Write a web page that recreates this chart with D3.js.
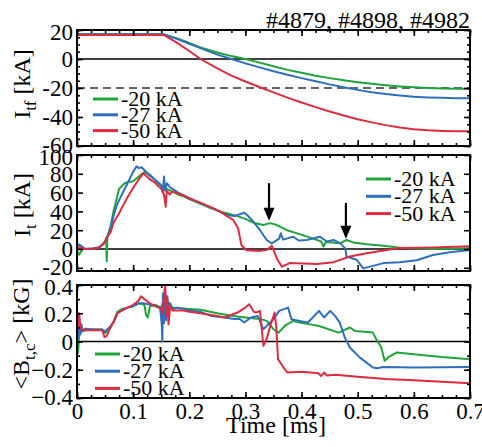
<!DOCTYPE html>
<html>
<head>
<meta charset="utf-8">
<script src="https://cdn.jsdelivr.net/npm/d3@7"></script>
<style>
  body { margin: 0; background: #fff; }
  svg { display: block; }
  text { font-family: "Liberation Serif", "Times New Roman", serif; fill: #000; }
</style>
</head>
<body>
<script>
// ---- labels and ticks ----
const shotsTitle = "#4879, #4898, #4982";
const legendLabels = ["-20 kA", "-27 kA", "-50 kA"];
const seriesColors = ["#1fa33b", "#2e6fbd", "#dd2c3f"];
const timeTicks = [0, 0.1, 0.2, 0.3, 0.4, 0.5, 0.6, 0.7];
const itfTicks = [20, 0, -20, -40, -60];
const itTicks = [100, 80, 60, 40, 20, 0, -20];
const btcTicks = [0.4, 0.2, 0, -0.2, -0.4];
const itfTarget = -20;                 // dashed reference level, kA
const arrowMarks = [[0.342, 70, 30], [0.479, 49, 11]]; // [time, from kA, to kA]

// ---- toroidal field coil current I_tf [kA] ----
const itfM20 = [[0,17],[0.155,17],[0.18,14],[0.2,11],[0.22,8],[0.25,4.5],[0.275,2],[0.3,0],[0.325,-2.5],[0.35,-5],[0.375,-7.5],[0.4,-9.5],[0.425,-11.5],[0.45,-13.2],[0.475,-14.7],[0.5,-16],[0.525,-17.1],[0.55,-18.1],[0.575,-18.9],[0.6,-19.5],[0.625,-20],[0.65,-20.3],[0.675,-20.5],[0.7,-20.6]];
const itfM27 = [[0,17],[0.155,17],[0.18,13.5],[0.2,10.5],[0.22,7.5],[0.25,3],[0.275,0],[0.3,-3],[0.325,-5.8],[0.35,-8.4],[0.375,-10.8],[0.4,-13.2],[0.425,-15.4],[0.45,-17.5],[0.475,-19.5],[0.5,-21.3],[0.525,-22.9],[0.55,-24.2],[0.575,-25.2],[0.6,-26],[0.625,-26.5],[0.65,-26.8],[0.675,-27],[0.7,-27.1]];
const itfM50 = [[0,16.5],[0.155,16.5],[0.175,12],[0.2,5.5],[0.22,0],[0.25,-6.5],[0.275,-11.5],[0.3,-15.5],[0.325,-19.3],[0.35,-23],[0.375,-26.6],[0.4,-30],[0.425,-33.2],[0.45,-36.2],[0.475,-39],[0.5,-41.5],[0.525,-43.7],[0.55,-45.6],[0.575,-47.2],[0.6,-48.4],[0.625,-49.2],[0.65,-49.6],[0.675,-49.8],[0.7,-49.8]];

// ---- toroidal plasma current I_t [kA] ----
const itM20 = [[0,-2],[0.004,-6],[0.01,0],[0.02,0],[0.03,0.5],[0.04,2],[0.048,6],[0.052,10],[0.053,-13],[0.054,12],[0.06,25],[0.065,40],[0.07,52],[0.075,64],[0.08,67],[0.085,70],[0.09,71],[0.1,72],[0.11,77],[0.12,82],[0.13,79],[0.14,73],[0.15,67],[0.16,64],[0.17,61],[0.18,58],[0.19,56],[0.2,53],[0.22,48],[0.24,43],[0.26,39],[0.28,36],[0.3,32],[0.314,28],[0.332,25.5],[0.344,27.5],[0.356,25.5],[0.374,20],[0.398,15.6],[0.421,11],[0.435,8],[0.439,2.5],[0.443,7.5],[0.469,6],[0.48,9.6],[0.492,7],[0.516,5],[0.546,3.5],[0.575,1.4],[0.634,0],[0.7,0.7]];
const itM27 = [[0,2],[0.003,5],[0.008,3],[0.015,0],[0.03,0.5],[0.04,2],[0.048,6],[0.055,15],[0.06,22],[0.065,35],[0.07,45],[0.075,52],[0.08,58],[0.09,70],[0.1,82],[0.106,88],[0.11,86],[0.115,87],[0.12,84],[0.13,78],[0.14,73],[0.15,68],[0.153,60],[0.155,77],[0.157,62],[0.16,70],[0.165,66],[0.17,64],[0.18,60],[0.19,57],[0.2,54],[0.22,49],[0.24,44],[0.26,38],[0.27,36],[0.28,35],[0.29,37],[0.298,38.5],[0.305,35],[0.314,29],[0.326,20],[0.338,9.6],[0.347,6],[0.36,11],[0.363,16.7],[0.367,10],[0.385,13],[0.395,9],[0.409,9.6],[0.433,13],[0.445,8],[0.457,9.6],[0.469,6],[0.478,0.7],[0.48,-8],[0.498,-11.5],[0.51,-20.6],[0.52,-19],[0.546,-15],[0.575,-14],[0.605,-12],[0.634,-6.4],[0.664,-3.5],[0.7,-1]];
const itM50 = [[0,0],[0.005,2],[0.01,0],[0.03,0.5],[0.04,1.5],[0.05,8],[0.055,14],[0.06,18],[0.065,28],[0.07,33],[0.075,38],[0.08,44],[0.09,55],[0.1,65],[0.11,74],[0.118,80.5],[0.125,77],[0.13,74],[0.14,70],[0.15,64],[0.155,58],[0.158,45],[0.16,62],[0.165,58],[0.17,61],[0.18,59],[0.19,57],[0.2,54],[0.22,49],[0.24,44],[0.255,40],[0.267,35],[0.278,31],[0.287,22],[0.293,4],[0.302,-1.4],[0.326,-2],[0.338,-1],[0.347,3.5],[0.356,-10],[0.365,-18.8],[0.379,-15],[0.427,-16],[0.457,-14],[0.486,-8],[0.516,-4.6],[0.546,-1.7],[0.575,1],[0.634,1.7],[0.7,2.8]];

// ---- averaged toroidal field <B_t,c> [kG] ----
const btcM20 = [[0,0.08],[0.002,-0.08],[0.004,0.05],[0.008,0.09],[0.015,0.08],[0.03,0.085],[0.045,0.085],[0.05,0.06],[0.055,0.08],[0.06,0.1],[0.066,0.15],[0.072,0.21],[0.08,0.23],[0.09,0.24],[0.1,0.25],[0.11,0.27],[0.12,0.26],[0.123,0.19],[0.126,0.17],[0.13,0.25],[0.14,0.26],[0.15,0.24],[0.155,0.3],[0.158,0.2],[0.162,0.28],[0.17,0.24],[0.2,0.23],[0.22,0.225],[0.25,0.2],[0.278,0.18],[0.3,0.17],[0.326,0.16],[0.338,0.146],[0.35,0.087],[0.359,0.063],[0.37,0.11],[0.385,0.146],[0.396,0.134],[0.413,0.123],[0.431,0.11],[0.466,0.063],[0.486,0.099],[0.495,0.075],[0.527,0.063],[0.533,0.017],[0.542,-0.043],[0.548,-0.137],[0.554,-0.113],[0.569,-0.078],[0.6,-0.09],[0.65,-0.11],[0.7,-0.125]];
const btcM27 = [[0,0.1],[0.002,0.03],[0.004,0.14],[0.006,0.05],[0.008,0.12],[0.01,0.07],[0.015,0.09],[0.03,0.085],[0.045,0.085],[0.05,0.07],[0.055,0.09],[0.06,0.11],[0.066,0.14],[0.072,0.2],[0.08,0.22],[0.09,0.24],[0.1,0.25],[0.11,0.27],[0.12,0.27],[0.13,0.26],[0.14,0.25],[0.148,0.24],[0.151,0.12],[0.152,0],[0.153,0.34],[0.155,0.13],[0.157,0.37],[0.159,0.15],[0.161,0.32],[0.163,0.19],[0.166,0.27],[0.17,0.23],[0.18,0.24],[0.2,0.22],[0.22,0.21],[0.24,0.18],[0.263,0.17],[0.28,0.16],[0.29,0.16],[0.298,0.134],[0.31,0.17],[0.322,0.18],[0.332,0.087],[0.35,0.158],[0.36,0.217],[0.376,0.24],[0.382,0.158],[0.396,0.146],[0.411,0.134],[0.42,0.17],[0.431,0.217],[0.44,0.17],[0.451,0.217],[0.46,0.18],[0.468,0.134],[0.477,0.028],[0.486,-0.043],[0.504,-0.114],[0.527,-0.184],[0.535,-0.19],[0.545,-0.18],[0.6,-0.184],[0.7,-0.18]];
const btcM50 = [[0,0.07],[0.002,0.12],[0.004,0.2],[0.006,0.1],[0.01,0.08],[0.03,0.08],[0.045,0.08],[0.049,0.03],[0.053,0.04],[0.058,0.087],[0.066,0.146],[0.072,0.2],[0.08,0.22],[0.09,0.24],[0.1,0.26],[0.11,0.29],[0.114,0.32],[0.12,0.3],[0.13,0.27],[0.14,0.25],[0.15,0.23],[0.153,0.2],[0.155,0.33],[0.157,0.4],[0.159,0.18],[0.161,0.3],[0.163,0.12],[0.166,0.25],[0.17,0.22],[0.19,0.22],[0.2,0.21],[0.22,0.2],[0.25,0.18],[0.263,0.17],[0.286,0.205],[0.3,0.24],[0.307,0.264],[0.315,0.21],[0.319,0.205],[0.326,0.217],[0.332,-0.03],[0.338,0.02],[0.345,0.12],[0.352,0.205],[0.355,0.1],[0.358,-0.125],[0.37,-0.196],[0.375,-0.22],[0.4,-0.215],[0.43,-0.225],[0.435,-0.245],[0.44,-0.22],[0.445,-0.24],[0.46,-0.235],[0.5,-0.25],[0.55,-0.265],[0.6,-0.275],[0.65,-0.285],[0.7,-0.295]];

// ---- layout ----
const W = 482, H = 447;
const plotLeft = 77, plotRight = 470;
const svg = d3.select("body").append("svg").attr("width", W).attr("height", H);

const x = d3.scaleLinear().domain([0, 0.7]).range([plotLeft, plotRight]);
const minorTime = d3.range(0, 0.7001, 0.025);

const panels = [
  { key: "itf", top: 30, bottom: 146, domain: [-60, 20], ticks: itfTicks,
    minor: d3.range(-60, 20.01, 5), series: [itfM20, itfM27, itfM50],
    fmt: d => String(d), legend: { x: 93, y: 99, dy: 15.8 } },
  { key: "it", top: 155, bottom: 271, domain: [-23.4, 100], ticks: itTicks,
    minor: [], series: [itM20, itM27, itM50],
    fmt: d => String(d), legend: { x: 366, y: 179, dy: 17.3 } },
  { key: "btc", top: 285, bottom: 398, domain: [-0.4, 0.4], ticks: btcTicks,
    minor: d3.range(-0.4, 0.401, 0.1), series: [btcM20, btcM27, btcM50],
    fmt: d => d === 0 ? "0" : d3.format(".1f")(d), legend: { x: 95, y: 354, dy: 17.2 } }
];

const TICK_FONT = "23px";

panels.forEach((p, i) => {
  p.y = d3.scaleLinear().domain(p.domain).range([p.bottom, p.top]);
  const g = svg.append("g");

  // clip for traces
  const clipId = "clip-" + p.key;
  svg.append("clipPath").attr("id", clipId).append("rect")
    .attr("x", plotLeft).attr("y", p.top)
    .attr("width", plotRight - plotLeft).attr("height", p.bottom - p.top);

  // zero line
  g.append("line")
    .attr("x1", plotLeft).attr("x2", plotRight)
    .attr("y1", p.y(0)).attr("y2", p.y(0))
    .attr("stroke", "#000").attr("stroke-width", 1.6);

  if (p.key === "itf") {
    g.append("line")
      .attr("x1", plotLeft).attr("x2", plotRight)
      .attr("y1", p.y(itfTarget)).attr("y2", p.y(itfTarget))
      .attr("stroke", "#333").attr("stroke-width", 1.3)
      .attr("stroke-dasharray", "8,5");
  }

  // traces
  const line = d3.line().x(d => x(d[0])).y(d => p.y(d[1]));
  const tg = g.append("g").attr("clip-path", `url(#${clipId})`);
  p.series.forEach((s, k) => {
    tg.append("path").datum(s)
      .attr("d", line)
      .attr("fill", "none")
      .attr("stroke", seriesColors[k])
      .attr("stroke-width", 2)
      .attr("stroke-linejoin", "round");
  });

  // axes with inward ticks on all four sides
  const strip = sel => { sel.select(".domain").remove(); };
  const bare = sel => { sel.select(".domain").remove(); sel.selectAll("text").remove(); };

  g.append("g").attr("transform", `translate(0,${p.bottom})`)
    .call(d3.axisBottom(x).tickValues(minorTime).tickSize(-3))
    .call(bare);
  g.append("g").attr("transform", `translate(0,${p.top})`)
    .call(d3.axisTop(x).tickValues(minorTime).tickSize(-3))
    .call(bare);
  g.append("g").attr("transform", `translate(0,${p.bottom})`)
    .call(d3.axisBottom(x).tickValues(timeTicks).tickSize(-6).tickPadding(5)
      .tickFormat(d => d === 0 ? "0" : d3.format(".1f")(d)))
    .call(i === 2 ? strip : bare);
  g.append("g").attr("transform", `translate(0,${p.top})`)
    .call(d3.axisTop(x).tickValues(timeTicks).tickSize(-6))
    .call(bare);

  if (p.minor.length) {
    g.append("g").attr("transform", `translate(${plotLeft},0)`)
      .call(d3.axisLeft(p.y).tickValues(p.minor).tickSize(-3))
      .call(bare);
    g.append("g").attr("transform", `translate(${plotRight},0)`)
      .call(d3.axisRight(p.y).tickValues(p.minor).tickSize(-3))
      .call(bare);
  }
  const yl = g.append("g").attr("transform", `translate(${plotLeft},0)`)
    .call(d3.axisLeft(p.y).tickValues(p.ticks).tickSize(-6).tickPadding(4).tickFormat(p.fmt))
    .call(strip);
  // the end labels sit slightly inside the frame
  yl.selectAll(".tick text")
    .attr("y", d => d === p.domain[1] || d === p.ticks[0] ? 2.5 : (d === p.ticks[p.ticks.length - 1] ? -1 : 0.5));
  g.append("g").attr("transform", `translate(${plotRight},0)`)
    .call(d3.axisRight(p.y).tickValues(p.ticks).tickSize(-6))
    .call(bare);

  g.selectAll(".tick line").attr("stroke", "#000").attr("stroke-width", 1.6);
  g.selectAll(".tick text")
    .style("font-family", '"Liberation Serif", serif')
    .style("font-size", TICK_FONT).attr("fill", "#000");

  // frame
  g.append("rect")
    .attr("x", plotLeft).attr("y", p.top)
    .attr("width", plotRight - plotLeft).attr("height", p.bottom - p.top)
    .attr("fill", "none").attr("stroke", "#000").attr("stroke-width", 2);

  // legend
  const lg = g.append("g");
  legendLabels.forEach((lab, k) => {
    const ly = p.legend.y + k * p.legend.dy;
    lg.append("line")
      .attr("x1", p.legend.x).attr("x2", p.legend.x + 25)
      .attr("y1", ly).attr("y2", ly)
      .attr("stroke", seriesColors[k]).attr("stroke-width", 3);
    lg.append("text")
      .attr("x", p.legend.x + 28).attr("y", ly + 7)
      .style("font-size", "22px").text(lab);
  });
});

// arrows in the I_t panel
const yIt = panels[1].y;
arrowMarks.forEach(([t, from, to]) => {
  const ax = x(t), y0 = yIt(from), y1 = yIt(to);
  svg.append("line")
    .attr("x1", ax).attr("x2", ax).attr("y1", y0).attr("y2", y1 - 11)
    .attr("stroke", "#000").attr("stroke-width", 2.2);
  svg.append("path")
    .attr("d", `M${ax - 5.5},${y1 - 13} L${ax + 5.5},${y1 - 13} L${ax},${y1} Z`)
    .attr("fill", "#000");
});

// title
svg.append("text").attr("x", plotRight).attr("y", 28)
  .attr("text-anchor", "end").style("font-size", "24px").text(shotsTitle);

// y-axis titles with subscripts
function yTitle(cx, cy, parts) {
  const t = svg.append("text")
    .attr("transform", `translate(${cx},${cy}) rotate(-90)`)
    .attr("text-anchor", "middle").style("font-size", "24px");
  parts.forEach(([str, shift]) => {
    t.append("tspan")
      .style("font-size", shift === 1 ? "17px" : "24px")
      .attr("dy", shift === 1 ? 6 : (shift === -1 ? -6 : 0))
      .text(str);
  });
}
yTitle(30, 84, [["I", 0], ["tf", 1], [" [kA]", -1]]);
yTitle(30, 205, [["I", 0], ["t", 1], [" [kA]", -1]]);
yTitle(29, 334, [["<B", 0], ["t,c", 1], ["> [kG]", -1]]);

// x-axis title
svg.append("text").attr("x", 276).attr("y", 433)
  .attr("text-anchor", "middle").style("font-size", "24px").text("Time [ms]");
</script>
</body>
</html>
